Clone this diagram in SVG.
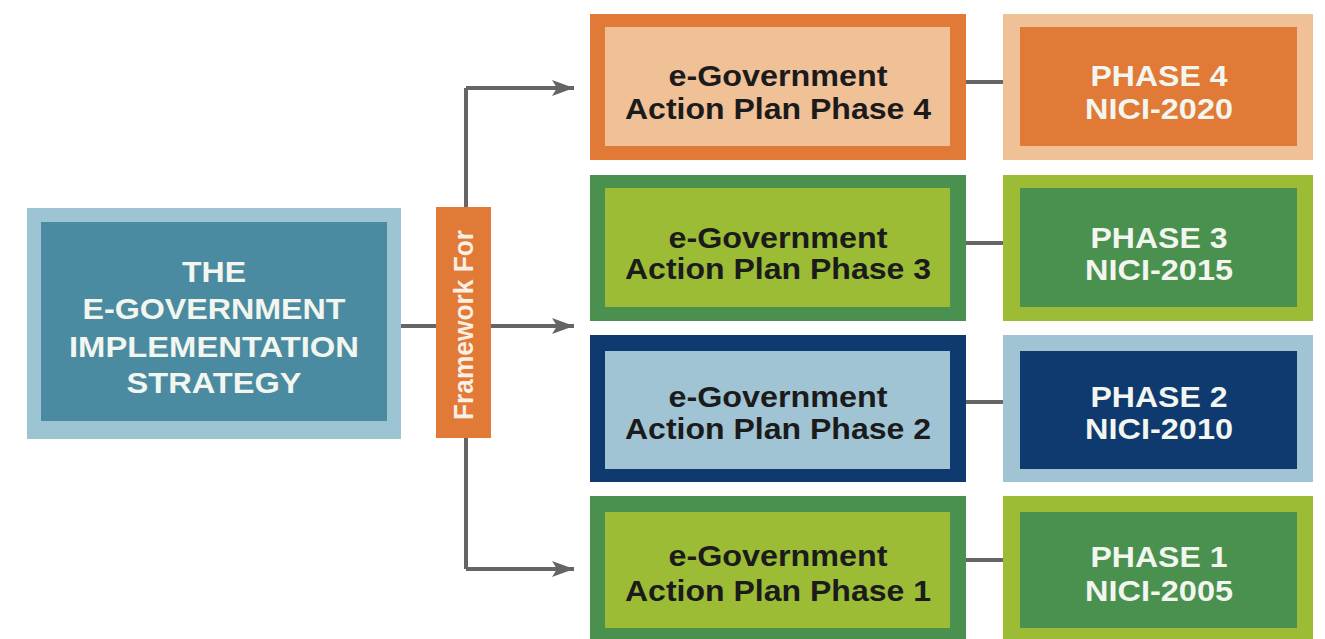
<svg xmlns="http://www.w3.org/2000/svg" width="1325" height="639" viewBox="0 0 1325 639">
  <defs>
    <style>
      text { font-family: "Liberation Sans", Arial, sans-serif; font-weight: bold; font-size: 30px; text-anchor: middle; }
      .dark { fill: #1b1b1b; }
      .light { fill: #f2f6ee; }
      .conn { stroke: #656565; stroke-width: 4; fill: none; }
      .orange { fill: #e07a36; }
      .peach { fill: #f0c097; }
      .green { fill: #4a914f; }
      .lime { fill: #9cbc36; }
      .navy { fill: #0f3a70; }
      .sky { fill: #a0c4d3; }
    </style>
    <marker id="arrow" markerUnits="userSpaceOnUse" markerWidth="24" markerHeight="18" refX="22" refY="9" orient="auto">
      <path d="M0,1 L22,9 L0,17 L5,9 z" fill="#656565"/>
    </marker>
  </defs>
  <rect width="1325" height="639" fill="#ffffff"/>

  <g id="connectors">
    <line class="conn" x1="466" y1="88" x2="466" y2="569"/>
    <line class="conn" x1="466" y1="88" x2="574" y2="88" marker-end="url(#arrow)"/>
    <line class="conn" x1="466" y1="569" x2="574" y2="569" marker-end="url(#arrow)"/>
    <line class="conn" x1="400" y1="326" x2="574" y2="326" marker-end="url(#arrow)"/>
    <line class="conn" x1="966" y1="82" x2="1004" y2="82"/>
    <line class="conn" x1="966" y1="243" x2="1004" y2="243"/>
    <line class="conn" x1="966" y1="402" x2="1004" y2="402"/>
    <line class="conn" x1="966" y1="560" x2="1004" y2="560"/>
  </g>

  <g id="strategy">
    <rect x="27" y="208" width="374" height="231" fill="#9cc4d3"/>
    <rect x="41" y="222" width="346" height="199" fill="#4a8ba1"/>
    <text class="light" x="214" y="282" textLength="64" lengthAdjust="spacingAndGlyphs">THE</text>
    <text class="light" x="214" y="319" textLength="263" lengthAdjust="spacingAndGlyphs">E-GOVERNMENT</text>
    <text class="light" x="214" y="357" textLength="290" lengthAdjust="spacingAndGlyphs">IMPLEMENTATION</text>
    <text class="light" x="214" y="393" textLength="175" lengthAdjust="spacingAndGlyphs">STRATEGY</text>
  </g>

  <g id="framework">
    <rect class="orange" x="436" y="207" width="55" height="231"/>
    <text x="473" y="325" transform="rotate(-90 473 325)" fill="#fbeee2" style="font-size:27px" textLength="190" lengthAdjust="spacingAndGlyphs">Framework For</text>
  </g>

  <g id="plan4">
    <rect class="orange" x="590" y="14" width="376" height="146"/>
    <rect class="peach" x="605" y="27" width="345" height="119"/>
    <text class="dark" x="778" y="86" textLength="219" lengthAdjust="spacingAndGlyphs">e-Government</text>
    <text class="dark" x="778" y="119" textLength="306" lengthAdjust="spacingAndGlyphs">Action Plan Phase 4</text>
  </g>
  <g id="phase4">
    <rect class="peach" x="1003" y="14" width="310" height="146"/>
    <rect class="orange" x="1020" y="27" width="277" height="119"/>
    <text class="light" x="1159" y="86" textLength="137" lengthAdjust="spacingAndGlyphs">PHASE 4</text>
    <text class="light" x="1159" y="119" textLength="148" lengthAdjust="spacingAndGlyphs">NICI-2020</text>
  </g>

  <g id="plan3">
    <rect class="green" x="590" y="175" width="376" height="146"/>
    <rect class="lime" x="605" y="188" width="345" height="119"/>
    <text class="dark" x="778" y="248" textLength="219" lengthAdjust="spacingAndGlyphs">e-Government</text>
    <text class="dark" x="778" y="279" textLength="306" lengthAdjust="spacingAndGlyphs">Action Plan Phase 3</text>
  </g>
  <g id="phase3">
    <rect class="lime" x="1003" y="175" width="310" height="146"/>
    <rect class="green" x="1020" y="188" width="277" height="119"/>
    <text class="light" x="1159" y="248" textLength="137" lengthAdjust="spacingAndGlyphs">PHASE 3</text>
    <text class="light" x="1159" y="280" textLength="148" lengthAdjust="spacingAndGlyphs">NICI-2015</text>
  </g>

  <g id="plan2">
    <rect class="navy" x="590" y="335" width="376" height="147"/>
    <rect class="sky" x="605" y="351" width="345" height="118"/>
    <text class="dark" x="778" y="407" textLength="219" lengthAdjust="spacingAndGlyphs">e-Government</text>
    <text class="dark" x="778" y="439" textLength="306" lengthAdjust="spacingAndGlyphs">Action Plan Phase 2</text>
  </g>
  <g id="phase2">
    <rect class="sky" x="1003" y="335" width="310" height="147"/>
    <rect class="navy" x="1020" y="351" width="277" height="118"/>
    <text class="light" x="1159" y="407" textLength="137" lengthAdjust="spacingAndGlyphs">PHASE 2</text>
    <text class="light" x="1159" y="439" textLength="148" lengthAdjust="spacingAndGlyphs">NICI-2010</text>
  </g>

  <g id="plan1">
    <rect class="green" x="590" y="496" width="376" height="146"/>
    <rect class="lime" x="605" y="512" width="345" height="116"/>
    <text class="dark" x="778" y="566" textLength="219" lengthAdjust="spacingAndGlyphs">e-Government</text>
    <text class="dark" x="778" y="601" textLength="306" lengthAdjust="spacingAndGlyphs">Action Plan Phase 1</text>
  </g>
  <g id="phase1">
    <rect class="lime" x="1003" y="496" width="310" height="146"/>
    <rect class="green" x="1020" y="512" width="277" height="116"/>
    <text class="light" x="1159" y="567" textLength="137" lengthAdjust="spacingAndGlyphs">PHASE 1</text>
    <text class="light" x="1159" y="601" textLength="148" lengthAdjust="spacingAndGlyphs">NICI-2005</text>
  </g>
</svg>
